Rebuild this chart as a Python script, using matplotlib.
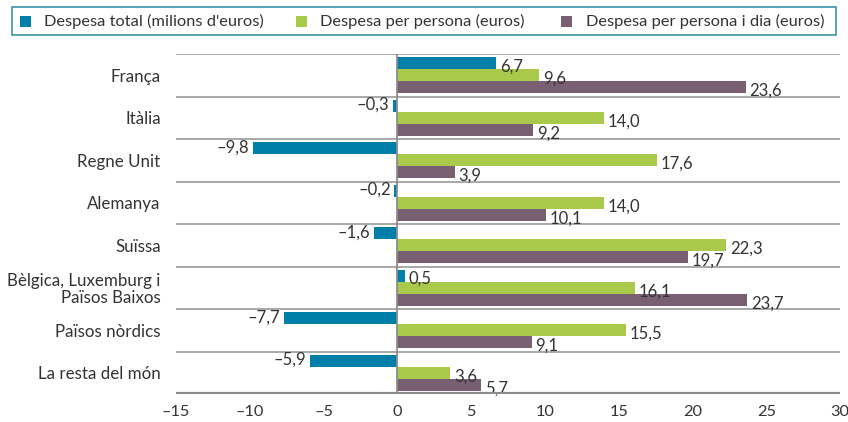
import matplotlib.pyplot as plt
import numpy as np
from matplotlib.patches import Rectangle

plt.rcParams['font.family'] = ['Lato', 'DejaVu Sans']

countries = ['França', 'Itàlia', 'Regne Unit', 'Alemanya', 'Suïssa',
             'Bèlgica, Luxemburg i\nPaïsos Baixos', 'Països nòrdics', 'La resta del món']
despesa_total = [6.7, -0.3, -9.8, -0.2, -1.6, 0.5, -7.7, -5.9]
despesa_persona = [9.6, 14.0, 17.6, 14.0, 22.3, 16.1, 15.5, 3.6]
despesa_dia = [23.6, 9.2, 3.9, 10.1, 19.7, 23.7, 9.1, 5.7]
series_names = ["Despesa total (milions d'euros)", 'Despesa per persona (euros)',
                'Despesa per persona i dia (euros)']
x_ticks = [-15, -10, -5, 0, 5, 10, 15, 20, 25, 30]

colors = ['#0080a8', '#a8c94a', '#785f72']
text_color = '#333333'
line_color = '#9a9a9a'
W, H = 848, 422


def fmt(v):
    s = f'{abs(v):.1f}'.replace('.', ',')
    return ('\u2013' + s) if v < 0 else s


fig = plt.figure(figsize=(W / 100, H / 100), dpi=100)
ax = fig.add_axes([176 / W, 1 - 394 / H, 664 / W, 340 / H])

y = np.arange(len(countries))
h = 0.285
for k, (vals, col) in enumerate(zip([despesa_total, despesa_persona, despesa_dia], colors)):
    pos = y + (k - 1) * h
    ax.barh(pos, vals, height=h, color=col, zorder=2)
    for p, v in zip(pos, vals):
        if v >= 0:
            ax.text(v + 0.25, p + 0.08, fmt(v), ha='left', va='center',
                    fontsize=12, color=text_color)
        else:
            ax.text(v - 0.25, p - 0.02, fmt(v), ha='right', va='center',
                    fontsize=12, color=text_color)

ax.set_xlim(-15, 30)
ax.set_ylim(len(countries) - 0.5, -0.5)

# category separators and the baseline
for b in np.arange(-0.5, len(countries) - 0.5, 1.0):
    ax.axhline(b, color=line_color, lw=1.2, zorder=1)
ax.axhline(len(countries) - 0.5, color='#8c8c8c', lw=3, zorder=3)
ax.axvline(0, color='#8c8c8c', lw=1.3, zorder=3)

for s in ax.spines.values():
    s.set_visible(False)

ax.set_yticks(y)
ax.set_yticklabels(countries, fontsize=12.2, color=text_color, linespacing=1.05)
ax.tick_params(axis='y', length=0, pad=11)
ax.set_xticks(x_ticks)
ax.set_xticklabels([str(t).replace('-', '\u2013') for t in x_ticks], fontsize=11.8, color=text_color)
ax.tick_params(axis='x', length=0, pad=8)

# legend: framed strip along the top with hand-placed entries
fig.add_artist(Rectangle((12 / W, 1 - 35 / H), 824 / W, 28 / H, transform=fig.transFigure,
                         facecolor='white', edgecolor='#3f93a8', lw=1.2))
marker_x = [20, 296, 561]
text_x = [44, 320, 586]
for mx, tx, col, name in zip(marker_x, text_x, colors, series_names):
    fig.add_artist(Rectangle((mx / W, 1 - 26.5 / H), 11 / W, 11 / H,
                             transform=fig.transFigure, facecolor=col, edgecolor='none'))
    fig.text(tx / W, 1 - 21 / H, name, ha='left', va='center', fontsize=11.8, color=text_color)

fig.savefig('out.png', dpi=100)
